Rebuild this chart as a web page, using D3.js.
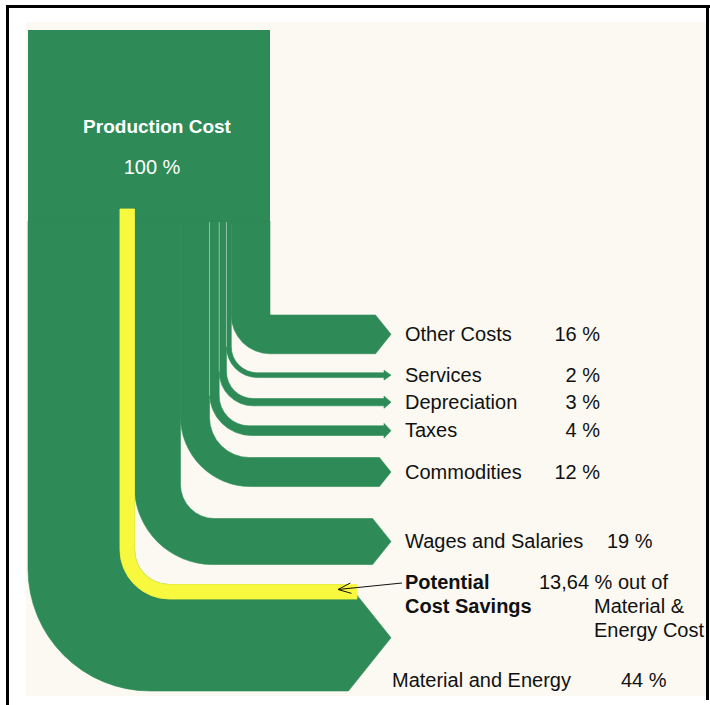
<!DOCTYPE html>
<html>
<head>
<meta charset="utf-8">
<script src="https://cdn.jsdelivr.net/npm/d3@7"></script>
<style>
  html, body { margin: 0; padding: 0; background: #ffffff; }
  svg { display: block; }
  text { font-family: "Liberation Sans", Arial, sans-serif; }
</style>
</head>
<body>
<script>
// ---------------- DATA ----------------
const sourceName = "Production Cost";
const sourceLabel = "100 %";
const categories = ["Other Costs", "Services", "Depreciation", "Taxes", "Commodities", "Wages and Salaries", "Material and Energy"];
const values = [16, 2, 3, 4, 12, 19, 44];
const percentLabels = ["16 %", "2 %", "3 %", "4 %", "12 %", "19 %", "44 %"];
const savingsPercentOfME = 13.64; // % out of Material & Energy cost
const savingsTitle = ["Potential", "Cost Savings"];
const savingsText = ["13,64 % out of", "Material &", "Energy Cost"];

// ---------------- LAYOUT ----------------
const W = 710, H = 705;
const green = "#2e8b57", yellow = "#f8f83e", beige = "#fbf9f1";
const colLeft = 28, colRight = 270, nodeTop = 30, flowTop = 222, yellowTop = 209;
const armTop0 = 315, tipX = 391, yellowEndX = 357;
const armGaps = [0, 19, 21, 20, 22, 32, 20];
const innerR = [0, 26, 27, 30, 40, 34, 35];
const outerR = [null, 31, 34, 42, 70, 78, 122];
const nameX = [405, 405, 405, 405, 405, 405, 392];
const pctX = [600, 600, 600, 600, 600, 607, 621];
const pctAnchor = ["end", "end", "end", "end", "end", "start", "start"];
const seamAfter = [1, 2, 3];

const svg = d3.select("body").append("svg").attr("width", W).attr("height", H);

// frame + background
svg.append("rect").attr("x", 26).attr("y", 22).attr("width", 681).attr("height", 674).attr("fill", beige);
svg.append("rect").attr("x", 6).attr("y", 5).attr("width", 3).attr("height", 700).attr("fill", "#000");
svg.append("rect").attr("x", 6).attr("y", 5).attr("width", 704).attr("height", 3).attr("fill", "#000");
svg.append("rect").attr("x", 706).attr("y", 5).attr("width", 3).attr("height", 695).attr("fill", "#000");

const total = d3.sum(values);
const x = d3.scaleLinear().domain([0, total]).range([colRight, colLeft]);
const wScale = d3.scaleLinear().domain([0, total]).range([0, colRight - colLeft]);

// compute flows
let cum = 0, armY = armTop0;
const flows = values.map((v, i) => {
  const xr = x(cum), xl = x(cum + v), w = wScale(v);
  if (i > 0) armY += armGaps[i];
  const y0 = armY, y1 = armY + w;
  armY = y1;
  cum += v;
  const r = innerR[i], R = outerR[i] == null ? w : outerR[i];
  return { i, v, xr, xl, w, y0, y1, r, R, name: categories[i], pct: percentLabels[i] };
});

function flowPath(f) {
  const p = d3.path();
  const mid = (f.y0 + f.y1) / 2;
  p.moveTo(f.xl, flowTop - 1);
  p.lineTo(f.xl, f.y1 - f.R);
  p.arcTo(f.xl, f.y1, f.xl + f.R, f.y1, f.R);
  if (f.w >= 12) {
    const base = tipX - 0.4 * f.w;
    p.lineTo(base, f.y1);
    p.lineTo(tipX, mid);
    p.lineTo(base, f.y0);
  } else {
    const base = tipX - 7, hh = f.w / 2 + 2.5;
    p.lineTo(base, f.y1);
    p.lineTo(base, mid + hh);
    p.lineTo(tipX, mid);
    p.lineTo(base, mid - hh);
    p.lineTo(base, f.y0);
  }
  if (f.r > 0) {
    p.lineTo(f.xr + f.r, f.y0);
    p.arcTo(f.xr, f.y0, f.xr, f.y0 - f.r, f.r);
  } else {
    p.lineTo(f.xr, f.y0);
  }
  p.lineTo(f.xr, flowTop - 1);
  p.closePath();
  return p.toString();
}

// source node
svg.append("rect").attr("x", colLeft).attr("y", nodeTop)
  .attr("width", colRight - colLeft).attr("height", flowTop - nodeTop + 2).attr("fill", green);

svg.append("g").selectAll("path").data(flows).join("path")
  .attr("d", flowPath).attr("fill", green)
  .attr("stroke", green).attr("stroke-width", 0.6);

// seams between thin flows
seamAfter.forEach(k => {
  const a = flows[k], b = flows[k + 1];
  const yEnd = Math.min(a.y0 - a.r, b.y1 - b.R);
  svg.append("line").attr("x1", a.xl).attr("x2", a.xl)
    .attr("y1", flowTop).attr("y2", yEnd)
    .attr("stroke", "#ffffff").attr("stroke-opacity", 0.45).attr("stroke-width", 1);
});

// potential savings strip (yellow) inside Material and Energy
const me = flows[flows.length - 1];
const sw = wScale(me.v * savingsPercentOfME / 100);
(function () {
  const xr = me.xr, xl = me.xr - sw, r = me.r, R = me.r + sw;
  const y0 = me.y0, y1 = me.y0 + sw;
  const p = d3.path();
  p.moveTo(xl, yellowTop);
  p.lineTo(xl, y1 - R);
  p.arcTo(xl, y1, xl + R, y1, R);
  p.lineTo(yellowEndX, y1);
  p.lineTo(yellowEndX, y0);
  p.lineTo(xr + r, y0);
  p.arcTo(xr, y0, xr, y0 - r, r);
  p.lineTo(xr, yellowTop);
  p.closePath();
  svg.append("path").attr("d", p.toString()).attr("fill", yellow)
    .attr("stroke", yellow).attr("stroke-width", 0.8);
})();

// source labels
svg.append("text").attr("x", 157).attr("y", 133).attr("text-anchor", "middle")
  .attr("fill", "#fff").attr("font-weight", "bold").attr("font-size", 19)
  .text(sourceName);
svg.append("text").attr("x", 152).attr("y", 174).attr("text-anchor", "middle")
  .attr("fill", "#fff").attr("font-size", 20).text(sourceLabel);

// flow labels
const lab = svg.append("g").attr("font-size", 20).attr("fill", "#111");
flows.forEach(f => {
  const yb = f.i === flows.length - 1 ? 687 : (f.y0 + f.y1) / 2 + 6.5;
  lab.append("text").attr("x", nameX[f.i]).attr("y", yb).text(f.name);
  lab.append("text").attr("x", pctX[f.i]).attr("y", yb).attr("text-anchor", pctAnchor[f.i]).text(f.pct);
});

// savings annotation
const sav = svg.append("g").attr("font-size", 20).attr("fill", "#111");
sav.append("text").attr("x", 405).attr("y", 589).attr("font-weight", "bold").text(savingsTitle[0]);
sav.append("text").attr("x", 405).attr("y", 613).attr("font-weight", "bold").text(savingsTitle[1]);
sav.append("text").attr("x", 539).attr("y", 589).text(savingsText[0]);
sav.append("text").attr("x", 594).attr("y", 613).text(savingsText[1]);
sav.append("text").attr("x", 594).attr("y", 637).text(savingsText[2]);

// pointer arrow
const ax0 = 402, ay0 = 583, ax1 = 338, ay1 = 589.5;
const ang = Math.atan2(ay0 - ay1, ax0 - ax1);
const hl = 14, ha = 0.38;
svg.append("path")
  .attr("d", `M${ax0},${ay0}L${ax1},${ay1}` +
    `M${ax1 + hl * Math.cos(ang - ha)},${ay1 + hl * Math.sin(ang - ha)}L${ax1},${ay1}` +
    `L${ax1 + hl * Math.cos(ang + ha)},${ay1 + hl * Math.sin(ang + ha)}`)
  .attr("fill", "none").attr("stroke", "#111").attr("stroke-width", 1);
</script>
</body>
</html>
